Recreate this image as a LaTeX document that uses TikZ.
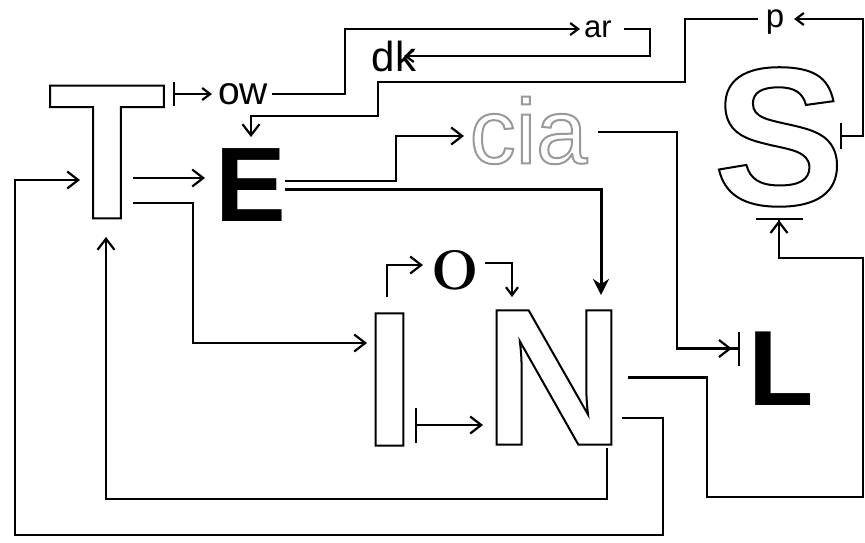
\documentclass[tikz,border=0pt]{standalone}
\usepackage{fontspec}
\usetikzlibrary{arrows.meta}

\newfontfamily\helv{Liberation Sans}
\definecolor{ciagray}{gray}{0.6}
\newcommand\fsz[1]{\fontsize{#1}{#1}\selectfont}
% centre the ink of a glyph on the node centre
\newcommand\ink[1]{\makebox[0pt]{\raisebox{-.5\height}[0pt][0pt]{#1}}}
% outlined (hollow) letters: stroke the glyphs instead of filling them
\newcommand\hollow[2][black]{%
  \special{pdf:code 1 Tr 2 w}\textcolor{#1}{#2}\special{pdf:code 0 Tr}}

\begin{document}
\begin{tikzpicture}[
  x=1pt, y=-1pt,
  line width=2.2pt,
  glyph/.style 2 args={inner sep=0pt, outer sep=0pt, minimum width=#1pt, minimum height=#2pt},
  flow/.style={-{Straight Barb[length=11pt,width=17pt]}},
  smallflow/.style={-{Straight Barb[length=8pt,width=12pt]}},
  heavyflow/.style={line width=3pt, -{Stealth[length=16pt,width=16pt]}},
  bartag/.style={{Bar[width=#1pt]}-{Straight Barb[length=8pt,width=12pt]}},
  barflow/.style={{Bar[width=#1pt]}-{Straight Barb[length=11pt,width=17pt]}},
  flowbar/.style 2 args={-{Straight Barb[length=11pt,width=17pt,sep=#2pt] Bar[width=#1pt]}}
]
  \useasboundingbox (0,0) rectangle (865,542);

  % letters
  \node[glyph={110}{140}, font=\helv\bfseries\fsz{193}] (T) at (107,152) {\ink{\hollow{T}}};
  \node[glyph={58}{76}, font=\helv\bfseries\fsz{106}] (E) at (251,185) {\ink{E}};
  \node[glyph={25}{139}, font=\helv\bfseries\fsz{192}] (I) at (389.5,379.5) {\ink{\hollow{I}}};
  \node[glyph={112}{141}, font=\helv\bfseries\fsz{195}] (N) at (554,377.5) {\ink{\hollow{N}}};
  \node[glyph={118}{148}, font=\helv\bfseries\fsz{197}] (S) at (779,136) {\ink{\hollow{S}}};
  \node[glyph={53}{77}, font=\helv\bfseries\fsz{107}] (L) at (781.5,368.5) {\ink{L}};
  \node[glyph={117}{66}, font=\helv\fsz{92}] (cia) at (528.5,130) {\ink{\hollow[ciagray]{cia}}};
  \node[glyph={44}{40}, font=\bfseries\fsz{56}] (O) at (455,270) {\ink{O}};

  % small labels
  \node[glyph={50}{20}, font=\helv\fsz{39}] (ow) at (243,94) {\ink{ow}};
  \node[glyph={32}{18}, font=\helv\fsz{31}] (ar) at (598,29) {\ink{ar}};
  \node[glyph={46}{32}, font=\helv\fsz{42}] (dk) at (394,56) {\ink{dk}};
  \node[glyph={14}{18}, font=\helv\fsz{33}] (p) at (775,19) {\ink{p}};

  % top chain
  \draw[bartag=24] ([xshift=11pt,yshift=-12pt]T.north east) -- ([xshift=-6pt]ow.west);
  \draw[smallflow] ([xshift=4pt]ow.east) -| (345,60) |- ([xshift=-2pt]ar.west);
  \draw[smallflow] ([xshift=10pt]ar.east) -| (650,40) |- ([xshift=-13pt]dk.east);
  \draw[bartag=26] ([xshift=2pt]S.east) -| (863,60) |- ([xshift=12pt]p.east);
  \draw[flow] ([xshift=-10pt]p.west) -| (685,82) -| (378,116) -| ([yshift=10pt]E.north);

  % from T
  \draw[flow] ([xshift=26pt,yshift=44pt]T.south) -- ([xshift=-17pt,yshift=7pt]E.west);
  \draw[flow] ([xshift=26pt,yshift=19pt]T.south) -| (193,300) |- ([xshift=-10pt,yshift=36.5pt]I.west);

  % from E
  \draw[flow] ([xshift=5pt,yshift=4pt]E.east) -| (396,160) |- ([xshift=-6pt,yshift=-6pt]cia.west);
  \draw[heavyflow] ([xshift=5pt,yshift=-4pt]E.east) -| ([xshift=-9pt,yshift=12pt]N.north east);

  % cia to L
  \draw[flowbar={34}{6}] ([xshift=11pt,yshift=-2pt]cia.east) -| (677,250) |- ([xshift=-15pt,yshift=20pt]L.west);

  % I, O, N
  \draw[flow] ([xshift=-2.5pt,yshift=13pt]I.north) |- ([xshift=-10pt,yshift=5pt]O.west);
  \draw[smallflow] ([xshift=8pt,yshift=7pt]O.east) -| ([xshift=14pt,yshift=10pt]N.north west);
  \draw[barflow=35] ([xshift=13pt,yshift=-45.5pt]I.east) -- ([xshift=-15pt,yshift=-47.5pt]N.west);

  % from N back round
  \draw[flow] ([xshift=-3pt]N.south east) |- (300,499) -| ([xshift=-1pt,yshift=-15pt]T.south);
  \draw[flow] ([xshift=12pt,yshift=-40.5pt]N.east) -| (663,535) -| (15,300) |- ([xshift=-27pt,yshift=42pt]T.south);
  \draw[flowbar={47}{0}] ([xshift=18pt]N.east) -| (707,497) -| (863,258) -| ([yshift=-8pt]S.south);
\end{tikzpicture}
\end{document}
